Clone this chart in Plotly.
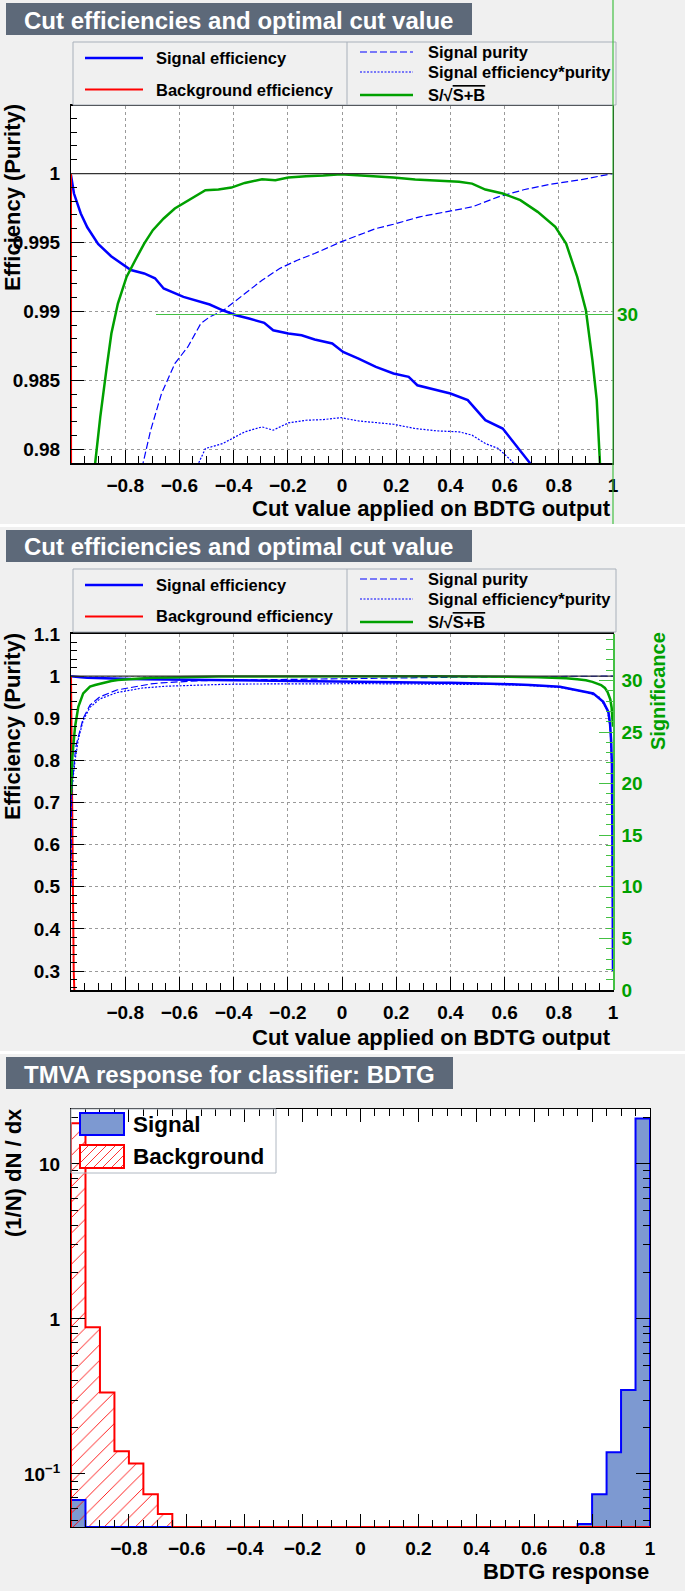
import plotly.graph_objects as go

W, H = 685, 1591
FONT = "Liberation Sans"
BG = "#f0f0f0"
TITLE_BG = "#5d6979"
BLUE = "#0000ff"
RED = "#ff0000"
GREEN = "#00a000"
GREEN_TICK = "#44c044"
SIG_FILL = "#7d99d1"
GRID = "#9a9a9a"

# ---------------- data: cut efficiencies ----------------
cut_sig_eff = [-1.0, -0.989, -0.964, -0.94, -0.9, -0.852, -0.779, -0.73, -0.69, -0.658, -0.585,
               -0.537, -0.488, -0.44, -0.391, -0.343, -0.287, -0.254, -0.198, -0.149, -0.101,
               -0.036, 0.004, 0.061, 0.125, 0.19, 0.246, 0.278, 0.351, 0.4, 0.464, 0.529, 0.593,
               0.626, 0.693, 0.804, 0.927, 0.964, 0.983, 0.989, 0.993, 0.996, 0.998, 1.0]
sig_eff = [0.99988, 0.99855, 0.9971, 0.9961, 0.9949, 0.994, 0.993, 0.99275, 0.9924, 0.99166, 0.99105,
           0.9908, 0.9905, 0.99008, 0.98972, 0.98948, 0.98917, 0.98863, 0.98839, 0.98827, 0.98796,
           0.98767, 0.98706, 0.98658, 0.98597, 0.98549, 0.98525, 0.98464, 0.98428, 0.98404, 0.98356,
           0.98211, 0.9815, 0.98065, 0.97901, 0.9747, 0.959, 0.939, 0.915, 0.888, 0.848, 0.79, 0.6, 0.3]

cut_bkg_eff = [-1.0, -0.999, -0.997, -0.995, -0.993, -0.99, -0.987, -0.98, -0.95, -0.9, -0.85, -0.8,
               -0.7, -0.65, 1.0]
bkg_eff = [1.0, 0.92, 0.75, 0.55, 0.40, 0.30, 0.24, 0.18, 0.085, 0.04, 0.022, 0.012, 0.003, 0.0, 0.0]

cut_purity = [-1.0, -0.998, -0.993, -0.988, -0.983, -0.973, -0.955, -0.93, -0.893, -0.831, -0.734,
              -0.706, -0.666, -0.617, -0.569, -0.521, -0.488, -0.44, -0.359, -0.295, -0.23, -0.165,
              -0.101, -0.004, 0.061, 0.125, 0.19, 0.287, 0.383, 0.48, 0.577, 0.674, 0.771, 0.884, 1.0]
purity = [0.5, 0.72, 0.76, 0.80, 0.83, 0.856, 0.90, 0.931, 0.951, 0.967, 0.979,
          0.98138, 0.98404, 0.98621, 0.98742, 0.98912, 0.9896, 0.99004, 0.99129, 0.99226, 0.99311,
          0.99371, 0.9942, 0.99504, 0.99553, 0.99601, 0.99632, 0.99686, 0.99722, 0.99758, 0.99831,
          0.99884, 0.99923, 0.99956, 1.0]

cut_effpur = [-1.0, -0.998, -0.993, -0.985, -0.973, -0.955, -0.93, -0.893, -0.831, -0.734, -0.65,
              -0.58, -0.529, -0.504, -0.44, -0.359, -0.295, -0.254, -0.198, -0.133, -0.069, -0.004,
              0.061, 0.125, 0.19, 0.27, 0.351, 0.432, 0.48, 0.529, 0.577, 0.617, 0.7, 0.8, 0.9,
              0.95, 0.98, 0.99, 0.995, 1.0]
effpur = [0.5, 0.715, 0.755, 0.80, 0.85, 0.895, 0.926, 0.946, 0.961, 0.972, 0.976,
          0.978, 0.979, 0.98005, 0.98041, 0.98126, 0.98162, 0.98138, 0.98191, 0.9821, 0.98215,
          0.98229, 0.98205, 0.98191, 0.98181, 0.9815, 0.98133, 0.98126, 0.98102, 0.98041, 0.98005,
          0.97932, 0.9775, 0.9735, 0.962, 0.95, 0.918, 0.872, 0.79, 0.3]

# significance curve, as drawn on the efficiency scale
cut_signif = [-1.0, -0.995, -0.985, -0.973, -0.955, -0.93, -0.911, -0.892, -0.868, -0.851, -0.827,
              -0.795, -0.763, -0.73, -0.698, -0.658, -0.617, -0.553, -0.504, -0.456, -0.408, -0.359,
              -0.295, -0.246, -0.198, -0.133, -0.069, -0.004, 0.061, 0.125, 0.19, 0.27, 0.351, 0.432,
              0.48, 0.529, 0.593, 0.658, 0.722, 0.787, 0.827, 0.868, 0.9, 0.924, 0.94, 0.956, 0.97,
              0.98, 0.99, 0.995, 1.0]
signif_scaled = [0.72, 0.8085, 0.88, 0.927, 0.959, 0.975, 0.97896, 0.98235, 0.98597, 0.98839, 0.99057,
                 0.9925, 0.99371, 0.99492, 0.99589, 0.99674, 0.99746, 0.99819, 0.99879, 0.99884,
                 0.99898, 0.99932, 0.99959, 0.99952, 0.99971, 0.99981, 0.99985, 0.99995, 0.99988,
                 0.99978, 0.99971, 0.99956, 0.99947, 0.9994, 0.99927, 0.99884, 0.99855, 0.99807,
                 0.99722, 0.99613, 0.99492, 0.9925, 0.99008, 0.98646, 0.98356, 0.97896, 0.972,
                 0.962, 0.945, 0.925, 0.88]

# significance axis: spans efficiency range [SIG_AX_LO, SIG_AX_HI] with labels [0, SIG_AX_MAX]
SIG_AX_LO, SIG_AX_HI, SIG_AX_MAX = 0.255, 1.1, 34.5

# ---------------- data: classifier response histograms ----------------
bin_edges = [-1.0, -0.95, -0.9, -0.85, -0.8, -0.75, -0.7, -0.65, -0.6, -0.55, -0.5, -0.45, -0.4,
             -0.35, -0.3, -0.25, -0.2, -0.15, -0.1, -0.05, 0.0, 0.05, 0.1, 0.15, 0.2, 0.25, 0.3,
             0.35, 0.4, 0.45, 0.5, 0.55, 0.6, 0.65, 0.7, 0.75, 0.8, 0.85, 0.9, 0.95, 1.0]
signal_density = [0.068, 0, 0, 0, 0, 0, 0, 0, 0, 0, 0, 0, 0, 0, 0, 0, 0, 0, 0, 0,
                  0, 0, 0, 0, 0, 0, 0, 0, 0, 0, 0, 0, 0, 0, 0, 0.0476, 0.074, 0.138, 0.348, 19.6]
background_density = [18.3, 0.884, 0.335, 0.140, 0.117, 0.074, 0.0552, 0, 0, 0, 0, 0, 0, 0, 0, 0,
                      0, 0, 0, 0, 0, 0, 0, 0, 0, 0, 0, 0, 0, 0, 0, 0, 0, 0, 0, 0, 0, 0, 0, 0]

x_tickvals = [-0.8, -0.6, -0.4, -0.2, 0.0, 0.2, 0.4, 0.6, 0.8, 1.0]
x_ticktext = ["\u22120.8", "\u22120.6", "\u22120.4", "\u22120.2", "0", "0.2", "0.4", "0.6", "0.8", "1"]
y1_tickvals = [0.98, 0.985, 0.99, 0.995, 1.0]
y1_ticktext = ["0.98", "0.985", "0.99", "0.995", "1"]
y2_tickvals = [0.3, 0.4, 0.5, 0.6, 0.7, 0.8, 0.9, 1.0, 1.1]
y2_ticktext = ["0.3", "0.4", "0.5", "0.6", "0.7", "0.8", "0.9", "1", "1.1"]
y3_tickvals = [0.1, 1, 10]
y3_ticktext = ["10<sup>\u22121</sup>", "1", "10"]
y3_minor_ticks = [0.05, 0.06, 0.07, 0.08, 0.09, 0.2, 0.3, 0.4, 0.5, 0.6, 0.7, 0.8, 0.9,
                  2, 3, 4, 5, 6, 7, 8, 9, 20]

Y1_RANGE = [0.979, 1.0049]
Y2_RANGE = [0.255, 1.1]
Y3_LOG_RANGE = [-1.342, 1.354]


def to_sig(v):
    return (v - SIG_AX_LO) / (SIG_AX_HI - SIG_AX_LO) * SIG_AX_MAX


signif = [to_sig(v) for v in signif_scaled]


def px(x):
    return x / W


def py(y):
    return 1 - y / H


fig = go.Figure()

P1 = dict(x0=71, x1=613, y0=106, y1=463)
P2 = dict(x0=71, x1=613, y0=634, y1=990)
P3 = dict(x0=71, x1=650, y0=1109, y1=1527)

tickfont = dict(family=FONT, size=19, color="black", weight="bold")


def xaxis_cfg(P, anchor, grid):
    return dict(domain=[px(P["x0"]), px(P["x1"])], anchor=anchor, range=[-1, 1], automargin=False,
                tickmode="array", tickvals=x_tickvals, ticktext=x_ticktext,
                ticks="inside", ticklen=13, tickwidth=1, tickcolor="black",
                minor=dict(ticks="inside", ticklen=7, tickmode="linear", tick0=0, dtick=0.05,
                           tickcolor="black", showgrid=False),
                showgrid=grid, gridcolor=GRID, griddash="dot", gridwidth=1,
                showline=True, linecolor="black", linewidth=1.5, mirror=True,
                zeroline=False, tickfont=tickfont, ticklabelstandoff=4)


def yaxis_cfg(P, anchor, rng, tv, tt, minor_dtick, minor_t0):
    return dict(domain=[py(P["y1"]), py(P["y0"])], anchor=anchor, range=rng, automargin=False,
                tickmode="array", tickvals=tv, ticktext=tt,
                ticks="inside", ticklen=13, tickwidth=1, tickcolor="black",
                minor=dict(ticks="inside", ticklen=6, tickmode="linear", tick0=minor_t0,
                           dtick=minor_dtick, tickcolor="black", showgrid=False),
                showgrid=True, gridcolor=GRID, griddash="dot", gridwidth=1,
                showline=True, linecolor="black", linewidth=1, mirror=True,
                zeroline=False, tickfont=tickfont, ticklabelstandoff=6)


sigfont = dict(family=FONT, size=19, color=GREEN, weight="bold")
layout = dict(
    template="none",
    width=W, height=H, margin=dict(l=0, r=0, t=0, b=0, pad=0, autoexpand=False),
    paper_bgcolor=BG, plot_bgcolor="white", showlegend=False,
    xaxis=xaxis_cfg(P1, "y", True),
    yaxis=yaxis_cfg(P1, "x", Y1_RANGE, y1_tickvals, y1_ticktext, 0.001, 0.98),
    xaxis2=xaxis_cfg(P2, "y2", True),
    yaxis2=yaxis_cfg(P2, "x2", Y2_RANGE, y2_tickvals, y2_ticktext, 0.02, 0.3),
    xaxis3=dict(xaxis_cfg(P3, "y3", False), mirror="ticks", linewidth=1),
    yaxis3=dict(domain=[py(P3["y1"]), py(P3["y0"])], anchor="x3", type="log", automargin=False,
                range=Y3_LOG_RANGE, tickmode="array", tickvals=y3_tickvals, ticktext=y3_ticktext,
                ticks="inside", ticklen=14, tickwidth=1, tickcolor="black",
                minor=dict(ticks="inside", ticklen=7, tickmode="array", tickvals=y3_minor_ticks,
                           tickcolor="black", showgrid=False),
                showgrid=False, showline=True, linecolor="black", linewidth=1, mirror="ticks",
                zeroline=False, tickfont=tickfont, ticklabelstandoff=6),
    yaxis4=dict(overlaying="y2", side="right", anchor="x2", range=[0, SIG_AX_MAX], automargin=False,
                tickmode="linear", tick0=0, dtick=5, ticks="inside", ticklen=14,
                tickcolor=GREEN_TICK, tickwidth=1,
                minor=dict(ticks="inside", ticklen=7, tickmode="linear", tick0=0, dtick=1,
                           tickcolor=GREEN_TICK, showgrid=False),
                showgrid=False, zeroline=False, showline=True, linecolor=GREEN_TICK,
                linewidth=1.5, tickfont=sigfont, ticklabelstandoff=3),
    yaxis5=dict(overlaying="y", side="right", anchor="x", automargin=False,
                range=[to_sig(Y1_RANGE[0]), to_sig(Y1_RANGE[1])],
                tickmode="array", tickvals=[30], ticktext=["30"], ticks="inside", ticklen=457,
                tickcolor=GREEN_TICK, tickwidth=1, showgrid=False, zeroline=False, showline=False,
                tickfont=sigfont, ticklabelstandoff=3),
)
fig.update_layout(**layout)

# ---------------- efficiency curves in panels 1 and 2 ----------------
for xa, ya, ys in (("x", "y", "y5"), ("x2", "y2", "y4")):
    fig.add_trace(go.Scatter(x=cut_sig_eff, y=sig_eff, mode="lines", xaxis=xa, yaxis=ya,
                             line=dict(color=BLUE, width=2.5)))
    fig.add_trace(go.Scatter(x=cut_bkg_eff, y=bkg_eff, mode="lines", xaxis=xa, yaxis=ya,
                             line=dict(color=RED, width=2)))
    fig.add_trace(go.Scatter(x=cut_purity, y=purity, mode="lines", xaxis=xa, yaxis=ya,
                             line=dict(color=BLUE, width=1.2, dash="7px,3px")))
    fig.add_trace(go.Scatter(x=cut_effpur, y=effpur, mode="lines", xaxis=xa, yaxis=ya,
                             line=dict(color=BLUE, width=1.2, dash="2px,1.5px")))
    fig.add_trace(go.Scatter(x=cut_signif, y=signif, mode="lines", xaxis=xa, yaxis=ys,
                             line=dict(color=GREEN, width=2.5)))
    fig.add_shape(type="line", xref=xa, yref=ya, x0=-1, x1=1, y0=1, y1=1,
                  line=dict(color="#333333", width=1.2))

# ---------------- response histograms in panel 3 ----------------
centers = [(a + b) / 2 for a, b in zip(bin_edges[:-1], bin_edges[1:])]
floor = 10 ** Y3_LOG_RANGE[0]


def step_outline(vals):
    xs, ys = [bin_edges[0]], [floor]
    for i, v in enumerate(vals):
        vv = max(v, floor)
        xs += [bin_edges[i], bin_edges[i + 1]]
        ys += [vv, vv]
    xs.append(bin_edges[-1])
    ys.append(floor)
    return xs, ys


fig.add_trace(go.Bar(x=centers, y=[v if v > 0 else None for v in signal_density], width=0.05,
                     xaxis="x3", yaxis="y3", marker=dict(color=SIG_FILL, line=dict(width=0))))
fig.add_trace(go.Bar(x=centers, y=[v if v > 0 else None for v in background_density], width=0.05,
                     xaxis="x3", yaxis="y3",
                     marker=dict(color=RED, line=dict(width=0),
                                 pattern=dict(shape="/", fillmode="replace", size=11,
                                              solidity=0.08))))
sx, sy = step_outline(signal_density)
fig.add_trace(go.Scatter(x=sx, y=sy, mode="lines", xaxis="x3", yaxis="y3",
                         line=dict(color=BLUE, width=2)))
bx, by = step_outline(background_density)
fig.add_trace(go.Scatter(x=bx, y=by, mode="lines", xaxis="x3", yaxis="y3",
                         line=dict(color=RED, width=2)))
fig.update_layout(barmode="overlay", bargap=0)


# ---------------- decorations ----------------
def rect(x0, y0, x1, y1, fill=None, line=None, lw=1, layer="above"):
    fig.add_shape(type="rect", xref="paper", yref="paper", x0=px(x0), x1=px(x1), y0=py(y1), y1=py(y0),
                  fillcolor=fill if fill else "rgba(0,0,0,0)",
                  line=dict(color=line if line else "rgba(0,0,0,0)", width=lw if line else 0),
                  layer=layer)


def seg(x0, y0, x1, y1, color, width=1, dash=None):
    fig.add_shape(type="line", xref="paper", yref="paper", x0=px(x0), x1=px(x1), y0=py(y0), y1=py(y1),
                  line=dict(color=color, width=width, dash=dash))


def text(x, y, s, size, color="black", xanchor="left", yanchor="middle", angle=0):
    fig.add_annotation(x=px(x), y=py(y), xref="paper", yref="paper", text=s, showarrow=False,
                       font=dict(family=FONT, size=size, color=color, weight="bold"),
                       xanchor=xanchor, yanchor=yanchor, textangle=angle)


rect(0, 524, W, 527, fill="white", layer="below")
rect(0, 1051, W, 1054, fill="white", layer="below")

for (y0, y1, x1, s) in ((3, 35, 472, "Cut efficiencies and optimal cut value"),
                        (530, 562, 472, "Cut efficiencies and optimal cut value"),
                        (1057, 1089, 453, "TMVA response for classifier: BDTG")):
    rect(6, y0, x1, y1, fill=TITLE_BG)
    text(22, (y0 + y1) / 2 + 1, s, 24, color="white")

SQRT = "S/\u221a<span style='text-decoration:overline'>S+B</span>"
for off in (0, 527):
    rect(73, 42 + off, 616, 105 + off, fill=BG, line="#a8b0ba", lw=1)
    seg(347, 42 + off, 347, 105 + off, "#a8b0ba", 1)
    seg(85, 58 + off, 143, 58 + off, BLUE, 2.5)
    text(154, 58 + off, "Signal efficiency", 16.5)
    seg(85, 89.5 + off, 143, 89.5 + off, RED, 2)
    text(154, 89.5 + off, "Background efficiency", 16.5)
    seg(360, 52 + off, 413, 52 + off, BLUE, 1.2, "7px,3px")
    text(426, 52 + off, "Signal purity", 16.5)
    seg(360, 72 + off, 413, 72 + off, BLUE, 1.2, "2px,1.5px")
    text(426, 72 + off, "Signal efficiency*purity", 16.5)
    seg(360, 95 + off, 413, 95 + off, GREEN, 2.5)
    text(426, 95 + off, SQRT, 16.5)

seg(613, 0, 613, 524, GREEN_TICK, 1.2)

text(613, 508, "Cut value applied on BDTG output", 22, xanchor="right")
text(613, 1037, "Cut value applied on BDTG output", 22, xanchor="right")
text(651, 1571, "BDTG response", 22, xanchor="right")
text(13, 198, "Efficiency (Purity)", 22, xanchor="center", yanchor="middle", angle=-90)
text(13, 727, "Efficiency (Purity)", 22, xanchor="center", yanchor="middle", angle=-90)
text(658, 691, "Significance", 20, color=GREEN, xanchor="center", yanchor="middle", angle=-90)
text(13, 1173, "(1/N) dN / dx", 22, xanchor="center", yanchor="middle", angle=-90)

# legend of panel 3 (transparent, drawn over the histograms)
rect(71, 1109, 276, 1173, line="#b0b8c2", lw=1)
rect(80, 1113, 124, 1135, fill=SIG_FILL, line=BLUE, lw=2)
text(131, 1124, "Signal", 22.5)
ix0, ix1, iy0, iy1 = 80, 124, 1145, 1168
hgt = iy1 - iy0
c = ix0 - hgt
rect(ix0, iy0, ix1, iy1, fill="white")
while c < ix1:
    xs, ys, xe, ye = c, iy1, c + hgt, iy0
    if xs < ix0:
        ys -= ix0 - xs
        xs = ix0
    if xe > ix1:
        ye += xe - ix1
        xe = ix1
    if xe > xs:
        seg(xs, ys, xe, ye, RED, 0.8)
    c += 9
rect(ix0, iy0, ix1, iy1, line=RED, lw=2)
text(131, 1156, "Background", 22.5)

PAGE_JS = ("document.documentElement.style.margin='0';document.body.style.margin='0';"
           "document.body.style.padding='0';document.body.style.overflow='hidden';"
           "document.documentElement.style.overflow='hidden';"
           "var g=document.getElementsByClassName('plotly-graph-div')[0];"
           "g.style.position='absolute';g.style.left='0px';g.style.top='0px';")
fig.write_html("out.html", config={"displayModeBar": False}, post_script=PAGE_JS)
